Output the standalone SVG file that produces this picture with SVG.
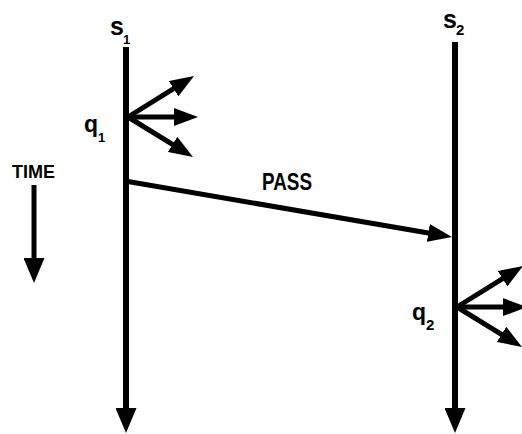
<svg xmlns="http://www.w3.org/2000/svg" width="522" height="434" viewBox="0 0 522 434">
<style>
.t{font-family:"Liberation Sans",Arial,sans-serif;font-weight:bold;fill:#000}
.ln{stroke:#000;fill:none;stroke-linecap:butt}
</style>
<defs>
<marker id="ah" viewBox="0 0 24 18" refX="9" refY="9" markerWidth="24" markerHeight="18" markerUnits="userSpaceOnUse" orient="auto">
<path d="M0,0 L24,9 L0,18 z" fill="#000"/>
</marker>
<marker id="av" viewBox="0 0 25 21" refX="10" refY="10.5" markerWidth="25" markerHeight="21" markerUnits="userSpaceOnUse" orient="auto">
<path d="M0,0 L25,10.5 L0,21 z" fill="#000"/>
</marker>
</defs>
<g id="s1">
<text class="t" x="110" y="35" font-size="25">s<tspan x="123" y="44" font-size="13">1</tspan></text>
</g>
<g id="s2">
<text class="t" x="443" y="28" font-size="25">s<tspan x="456" y="35" font-size="15">2</tspan></text>
</g>
<g id="q1">
<text class="t" x="84" y="132" font-size="23">q<tspan x="98" y="142" font-size="13">1</tspan></text>
</g>
<g id="q2">
<text class="t" x="412" y="320" font-size="23">q<tspan x="426" y="330" font-size="15">2</tspan></text>
</g>
<g id="time">
<text class="t" x="12" y="178" font-size="19" textLength="43" lengthAdjust="spacingAndGlyphs">TIME</text>
</g>
<g id="connectors">
<line class="ln" x1="126" y1="47" x2="126" y2="418" stroke-width="6" marker-end="url(#av)"/>
<line class="ln" x1="455" y1="42" x2="455" y2="418" stroke-width="6" marker-end="url(#av)"/>
<line class="ln" x1="34" y1="185" x2="34" y2="268" stroke-width="5" marker-end="url(#av)"/>
<line class="ln" x1="128" y1="117" x2="181.3" y2="83.9" stroke-width="5" marker-end="url(#ah)"/>
<line class="ln" x1="128" y1="117" x2="183" y2="117" stroke-width="5" marker-end="url(#ah)"/>
<line class="ln" x1="128" y1="117" x2="180.2" y2="149.1" stroke-width="5" marker-end="url(#ah)"/>
<line class="ln" x1="457" y1="307" x2="510.3" y2="273.9" stroke-width="5" marker-end="url(#ah)"/>
<line class="ln" x1="457" y1="307" x2="512" y2="307" stroke-width="5" marker-end="url(#ah)"/>
<line class="ln" x1="457" y1="307" x2="509.2" y2="339.1" stroke-width="5" marker-end="url(#ah)"/>
<line class="ln" x1="125" y1="181" x2="437.2" y2="234.5" stroke-width="5" marker-end="url(#ah)"/>
<text class="t" x="262" y="190" font-size="24" textLength="50" lengthAdjust="spacingAndGlyphs">PASS</text>
</g>
</svg>
